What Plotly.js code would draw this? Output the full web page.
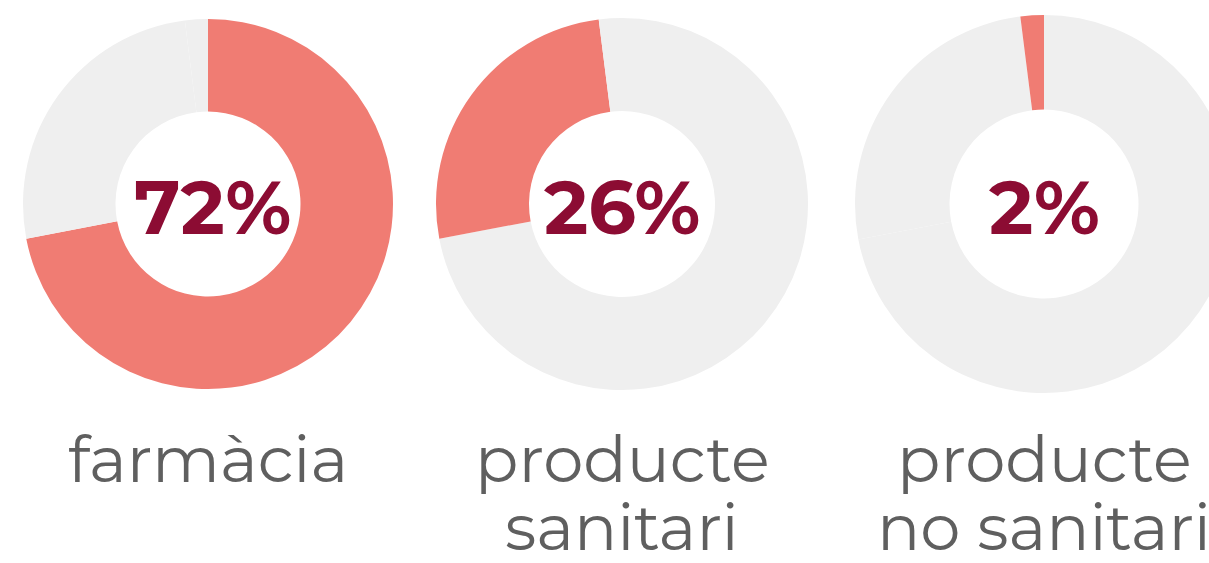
<!DOCTYPE html>
<html>
<head>
<meta charset="utf-8">
<script src="https://cdn.plot.ly/plotly-3.0.1.min.js"></script>
<style>
html,body{margin:0;padding:0;overflow:hidden;background:#fff;}
#chart{width:1260px;height:563px;}
</style>
</head>
<body>
<div id="chart"></div>
<script>
// Data
var categories = ["farmàcia", "producte sanitari", "producte no sanitari"];
var shares = [72, 26, 2];
var percentLabels = ["72%", "26%", "2%"];
var labelLines = [["farmàcia"], ["producte", "sanitari"], ["producte", "no sanitari"]];

// Styling / layout (not data)
var W = 1260, H = 563;
var HIGHLIGHT = "#F07C73", REST = "#EFEFEF", PCT = "#8C0C33", LAB = "#5F5F5F";
var centers = [[208, 204, 185], [622, 204, 186], [1044, 204, 189]];
var pctShift = [4, 0, 0];

var traces = [];
var annotations = [];
categories.forEach(function (cat, i) {
  var c = centers[i];
  var colors = categories.map(function (_, j) { return j === i ? HIGHLIGHT : REST; });
  traces.push({
    type: "pie",
    labels: categories,
    values: shares,
    sort: false,
    direction: "clockwise",
    rotation: 0,
    hole: 0.5,
    textinfo: "none",
    hoverinfo: "none",
    showlegend: false,
    marker: { colors: colors, line: { width: 0 } },
    domain: {
      x: [(c[0] - c[2]) / W, (c[0] + c[2]) / W],
      y: [(H - c[1] - c[2]) / H, (H - c[1] + c[2]) / H]
    }
  });
  annotations.push({
    xref: "paper", yref: "paper",
    x: (c[0] + pctShift[i]) / W, y: (H - c[1] - 3) / H,
    xanchor: "center", yanchor: "middle",
    text: "<b>" + percentLabels[i] + "</b>",
    showarrow: false,
    font: { family: "Montserrat, 'Open Sans', sans-serif", size: 75, color: PCT, weight: 800 }
  });
  labelLines[i].forEach(function (line, k) {
    annotations.push({
      xref: "paper", yref: "paper",
      x: c[0] / W, y: (H - (459 + k * 68)) / H,
      xanchor: "center", yanchor: "middle",
      text: line,
      showarrow: false,
      font: { family: "Montserrat, 'Open Sans', sans-serif", size: 64, color: LAB }
    });
  });
});

var layout = {
  width: W, height: H,
  margin: { l: 0, r: 0, t: 0, b: 0 },
  paper_bgcolor: "#ffffff",
  plot_bgcolor: "#ffffff",
  showlegend: false,
  annotations: annotations
};

Plotly.newPlot("chart", traces, layout, { displayModeBar: false, staticPlot: true });
</script>
</body>
</html>
